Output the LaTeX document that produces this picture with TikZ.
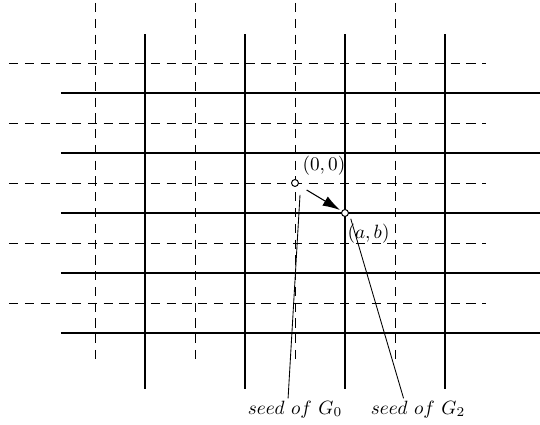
\documentclass[tikz,border=0pt]{standalone}
\usepackage{tikz}
\usetikzlibrary{arrows.meta,positioning}

\begin{document}
\begin{tikzpicture}[
  x=52pt, y=31.2pt,
  >={Latex[length=9pt,width=5.5pt]},
  oldgrid/.style={dash pattern=on 4.8pt off 3.4pt, line width=0.4pt},
  newgrid/.style={line width=1.5pt},
  seed/.style={circle, draw, fill=white, inner sep=0pt, minimum size=3.6pt, line width=0.5pt},
  note/.style={inner sep=1pt},
  lead/.style={line width=0.45pt}
]
\useasboundingbox (-2.95,3.05) rectangle (2.45,-4.02);
% G_0: dashed lattice
\foreach \i in {-2,...,1} \draw[oldgrid] (\i,3) -- (\i,-2.93);
\foreach \j in {-2,...,2} \draw[oldgrid] (-2.86,\j) -- (1.91,\j);
% G_2: solid lattice, shifted by (a,b)
\foreach \i in {-2,...,1} \draw[newgrid] (\i+0.5,2.48) -- (\i+0.5,-3.43);
\foreach \j in {-2,...,2} \draw[newgrid] (-2.34,\j-0.5) -- (2.45,\j-0.5);

\node[seed] (o)  at (0,0)      {};
\node[seed] (ab) at (0.5,-0.5) {};
\node[note, above right=1.3pt and 1.3pt of o]   (olbl)  {$(0,0)$};
\node[note, below right=3.2pt and -1.3pt of ab] (ablbl) {$(a,b)$};
\draw[->, line width=0.55pt, shorten <=5pt, shorten >=1pt] (o) -- (ab);

\node[note] (s0) at (0,-3.77)    {$seed\ of\ G_0$};
\node[note] (s2) at (1.23,-3.77) {$seed\ of\ G_2$};
\draw[lead] ([xshift=-3.6pt]s0.north) -- ([shift={(2.6pt,-6.2pt)}]o.center);
\draw[lead] ([xshift=-7.5pt]s2.north) -- ([shift={(3pt,-3pt)}]ab.center);
\end{tikzpicture}
\end{document}
